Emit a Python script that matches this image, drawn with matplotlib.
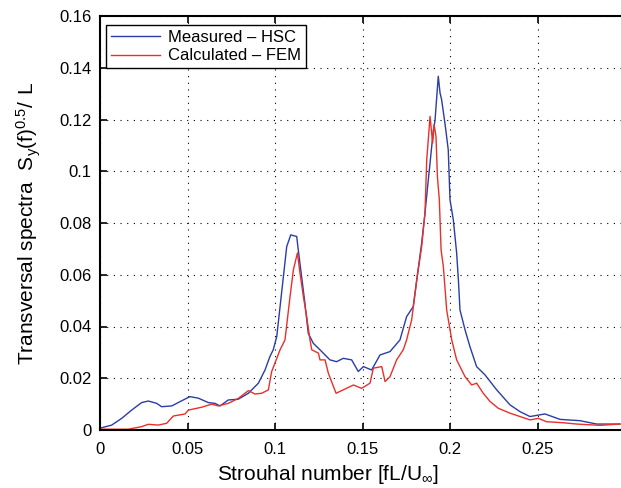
import numpy as np
import matplotlib
matplotlib.use('Agg')
import matplotlib.pyplot as plt

plt.rcParams['font.family'] = ['Liberation Sans', 'DejaVu Sans']
plt.rcParams['mathtext.default'] = 'regular'

# Measured spectrum (HSC)
st_meas = [0.0, 0.0067, 0.0124, 0.0181, 0.0238, 0.0276, 0.0324, 0.0352, 0.041, 0.0467,
           0.0514, 0.0562, 0.0619, 0.0657, 0.0686, 0.0733, 0.079, 0.0848, 0.0905, 0.0943,
           0.0971, 0.099, 0.101, 0.1029, 0.1048, 0.1067, 0.109, 0.1124, 0.1133, 0.1152,
           0.1171, 0.119, 0.1219, 0.1257, 0.1314, 0.1352, 0.139, 0.1438, 0.1476, 0.1505,
           0.1552, 0.16, 0.1657, 0.1714, 0.1752, 0.179, 0.181, 0.1838, 0.1857, 0.1876,
           0.1886, 0.1905, 0.1914, 0.1933, 0.1943, 0.1952, 0.1971, 0.199, 0.2, 0.2019,
           0.2038, 0.2048, 0.2057, 0.2086, 0.2114, 0.2152, 0.22, 0.2267, 0.2343, 0.24,
           0.2457, 0.2543, 0.2629, 0.2743, 0.2838, 0.2971]
sy_meas = [0.0007, 0.0019, 0.0045, 0.0077, 0.0106, 0.0112, 0.0103, 0.009, 0.0093, 0.0113,
           0.0129, 0.0123, 0.0106, 0.0103, 0.0093, 0.0116, 0.0119, 0.0142, 0.0181, 0.0232,
           0.0284, 0.031, 0.0361, 0.0477, 0.0593, 0.0709, 0.0754, 0.0748, 0.0696, 0.0593,
           0.049, 0.0374, 0.0335, 0.031, 0.0271, 0.0264, 0.0277, 0.0271, 0.0226, 0.0245,
           0.0232, 0.029, 0.0303, 0.0348, 0.0438, 0.0477, 0.058, 0.0722, 0.0838, 0.0967,
           0.1032, 0.116, 0.1193, 0.1367, 0.1303, 0.1277, 0.1186, 0.1083, 0.089, 0.0812,
           0.0684, 0.058, 0.0464, 0.0387, 0.0322, 0.0245, 0.0213, 0.0155, 0.0097, 0.0071,
           0.0052, 0.0062, 0.0041, 0.0036, 0.0023, 0.0023]

# Calculated spectrum (FEM)
st_calc = [0.0, 0.0162, 0.0238, 0.0276, 0.0333, 0.0381, 0.0419, 0.0486, 0.0505, 0.0581,
           0.0638, 0.0676, 0.0733, 0.079, 0.0848, 0.0886, 0.0924, 0.0962, 0.0981, 0.1029,
           0.1057, 0.1086, 0.1105, 0.1128, 0.1143, 0.1162, 0.1181, 0.12, 0.121, 0.1248,
           0.1257, 0.1286, 0.1305, 0.1349, 0.139, 0.1448, 0.1495, 0.1543, 0.1562, 0.161,
           0.1629, 0.1657, 0.1695, 0.1733, 0.1752, 0.1781, 0.181, 0.1838, 0.1857, 0.1867,
           0.1886, 0.1895, 0.1901, 0.1909, 0.192, 0.1928, 0.1939, 0.1949, 0.1962, 0.1981,
           0.201, 0.2038, 0.2086, 0.2124, 0.2152, 0.219, 0.2229, 0.2276, 0.2343, 0.24,
           0.2457, 0.2505, 0.2552, 0.2648, 0.2724, 0.2857, 0.2971]
sy_calc = [0.0003, 0.0003, 0.0013, 0.0022, 0.0019, 0.0026, 0.0054, 0.0062, 0.0077, 0.0088,
           0.01, 0.0093, 0.0103, 0.0122, 0.0152, 0.0139, 0.0142, 0.0155, 0.0226, 0.031,
           0.0348, 0.0516, 0.0619, 0.0684, 0.0606, 0.0516, 0.0438, 0.0348, 0.031, 0.0297,
           0.0271, 0.0271, 0.0219, 0.0142, 0.0155, 0.0174, 0.0161, 0.0181, 0.0239, 0.0245,
           0.0187, 0.0206, 0.0271, 0.031, 0.0348, 0.0426, 0.058, 0.0709, 0.0838, 0.1044,
           0.1212, 0.1148, 0.1109, 0.118, 0.1135, 0.098, 0.089, 0.0696, 0.0632, 0.0464,
           0.0348, 0.0271, 0.0206, 0.0174, 0.0181, 0.0142, 0.011, 0.0084, 0.0065, 0.0052,
           0.0039, 0.0045, 0.0032, 0.0028, 0.0023, 0.0018, 0.0023]

xticks = [0, 0.05, 0.1, 0.15, 0.2, 0.25]
xtick_labels = ['0', '0.05', '0.1', '0.15', '0.2', '0.25']
yticks = [0, 0.02, 0.04, 0.06, 0.08, 0.1, 0.12, 0.14, 0.16]
ytick_labels = ['0', '0.02', '0.04', '0.06', '0.08', '0.1', '0.12', '0.14', '0.16']

fig = plt.figure(figsize=(6.21, 4.88), dpi=100)
ax = fig.add_axes([100 / 621, 58 / 488, 521 / 621, 414 / 488])

ax.plot(st_meas, sy_meas, color='#2a3ca8', lw=1.0, label='Measured \u2013 HSC')
ax.plot(st_calc, sy_calc, color='#e8302a', lw=1.0, label='Calculated \u2013 FEM')

ax.set_xlim(0, 521 / 1750)
ax.set_ylim(0, 0.16)
ax.set_xticks(xticks)
ax.set_xticklabels(xtick_labels)
ax.set_yticks(yticks)
ax.set_yticklabels(ytick_labels)

ax.grid(True, color='black', lw=0.8, linestyle=(0, (1, 5)))
ax.tick_params(direction='in', length=5, width=1.2, labelsize=12,
               top=True, right=False, pad=6)
ax.tick_params(axis='x', pad=9)
for side in ['left', 'bottom', 'top']:
    ax.spines[side].set_linewidth(1.5)
ax.spines['right'].set_visible(False)

ax.set_xlabel(r'Strouhal number [fL/U$_{\infty}$]', fontsize=15)
ax.set_ylabel(r'Transversal spectra  $S_y(f)^{0.5}/\ L$', fontsize=15)
ax.xaxis.set_label_coords((328 - 100) / 521, -33 / 414)
ax.yaxis.set_label_coords(-57 / 521, 0.5)

leg = ax.legend(loc='upper left', bbox_to_anchor=(0.012, 0.978), fontsize=12,
                handlelength=2.9, fancybox=False, framealpha=1,
                edgecolor='black', borderpad=0.3, labelspacing=0.2,
                handletextpad=0.5, borderaxespad=0)
leg.get_frame().set_linewidth(1.0)

plt.savefig('out.png', dpi=100)
